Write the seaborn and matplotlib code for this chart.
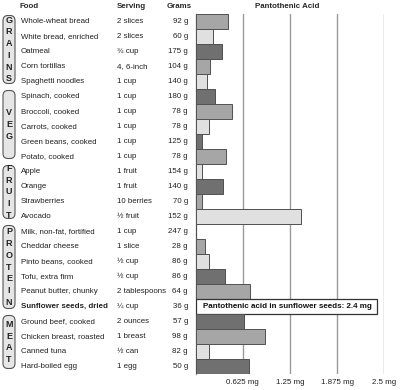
import numpy as np
import pandas as pd
import matplotlib
matplotlib.use("Agg")
import matplotlib.pyplot as plt
from matplotlib.patches import FancyBboxPatch
import seaborn as sns

# data
foods = ["Whole-wheat bread", "White bread, enriched", "Oatmeal", "Corn tortillas",
         "Spaghetti noodles", "Spinach, cooked", "Broccoli, cooked", "Carrots, cooked",
         "Green beans, cooked", "Potato, cooked", "Apple", "Orange", "Strawberries",
         "Avocado", "Milk, non-fat, fortified", "Cheddar cheese", "Pinto beans, cooked",
         "Tofu, extra firm", "Peanut butter, chunky", "Sunflower seeds, dried",
         "Ground beef, cooked", "Chicken breast, roasted", "Canned tuna", "Hard-boiled egg"]
servings = ["2 slices", "2 slices", "¾ cup", "4, 6-inch", "1 cup", "1 cup", "1 cup", "1 cup",
            "1 cup", "1 cup", "1 fruit", "1 fruit", "10 berries", "½ fruit", "1 cup", "1 slice",
            "½ cup", "½ cup", "2 tablespoons", "¼ cup", "2 ounces", "1 breast", "½ can", "1 egg"]
grams = [92, 60, 175, 104, 140, 180, 78, 78, 125, 78, 154, 140, 70, 152, 247, 28,
         86, 86, 64, 36, 57, 98, 82, 50]
pantothenic = [0.43, 0.225, 0.35, 0.195, 0.155, 0.255, 0.48, 0.18, 0.088, 0.40, 0.088,
               0.365, 0.088, 1.40, 0.0, 0.12, 0.175, 0.39, 0.72, 2.4, 0.645, 0.92, 0.175, 0.70]
groups = [("GRAINS", 0, 5), ("VEG", 5, 10), ("FRUIT", 10, 14), ("PROTEIN", 14, 20), ("MEAT", 20, 24)]
ticks = [0.625, 1.25, 1.875, 2.5]
tick_labels = ["0.625 mg", "1.25 mg", "1.875 mg", "2.5 mg"]
highlight = "Sunflower seeds, dried"

df = pd.DataFrame({"food": foods, "mg": pantothenic})

shades = ["#a6a6a6", "#e0e0e0", "#707070"]
palette = {f: shades[i % 3] for i, f in enumerate(foods)}
palette[highlight] = "#ffffff"

sns.set_style("white")
plt.rcParams["font.family"] = ["Liberation Sans", "DejaVu Sans"]
fs = 5.7

W, H = 400, 390
TOP, ROW = 14, 15
n = len(foods)
X0, X1 = 195.7, 384.3

fig = plt.figure(figsize=(4, 3.9), dpi=100)
ax = fig.add_axes([X0 / W, 1 - (TOP + n * ROW) / H, (X1 - X0) / W, n * ROW / H])

sns.barplot(data=df, x="mg", y="food", hue="food", palette=palette, width=1.0,
            legend=False, ax=ax, saturation=1)
for p, f in zip(ax.patches, foods):
    p.set_edgecolor("#333333" if f == highlight else "#505050")
    p.set_linewidth(0.9 if f == highlight else 0.7)
    p.set_zorder(3)

ax.set_xlim(0, 2.5)
ax.set_ylim(n - 0.5, -0.5)
ax.set_xticks(ticks)
ax.set_xticklabels(tick_labels, fontsize=fs, color="#222222")
ax.set_yticks([])
ax.set_xlabel("")
ax.set_ylabel("")
ax.tick_params(axis="x", length=0, pad=3.5)
ax.grid(axis="x", color="#9a9a9a", lw=1)
ax.set_axisbelow(True)
for s in ["top", "right", "bottom"]:
    ax.spines[s].set_visible(False)
ax.spines["left"].set_color("#9a9a9a")
ax.spines["left"].set_linewidth(1)

i_h = foods.index(highlight)
ax.text(0.095, i_h, "Pantothenic acid in sunflower seeds: 2.4 mg", va="center", ha="left",
        fontsize=5.8, fontweight="bold", color="#111111", zorder=5)

# overlay in pixel coordinates for the table part
ov = fig.add_axes([0, 0, 1, 1], facecolor="none")
ov.set_xlim(0, W)
ov.set_ylim(H, 0)
ov.axis("off")

hy = 6.5
ov.text(20, hy, "Food", fontsize=fs, fontweight="bold", va="center")
ov.text(117, hy, "Serving", fontsize=fs, fontweight="bold", va="center")
ov.text(192, hy, "Grams", fontsize=fs, fontweight="bold", va="center", ha="right")
ov.text(287, hy, "Pantothenic Acid", fontsize=fs, fontweight="bold", va="center", ha="center")

for i, (f, s, g) in enumerate(zip(foods, servings, grams)):
    y = TOP + ROW * (i + 0.5)
    bold = "bold" if f == highlight else "normal"
    ov.text(21, y, f, fontsize=fs, fontweight=bold, va="center", color="#222222")
    ov.text(117, y, s, fontsize=fs, va="center", color="#222222")
    ov.text(188, y, f"{g} g", fontsize=fs, va="center", ha="right", color="#222222")

for name, a, b in groups:
    y_top = TOP + ROW * a + 1.5
    y_bot = TOP + ROW * b - 5.5
    box = FancyBboxPatch((3, y_top), 12, y_bot - y_top,
                         boxstyle="round,pad=0,rounding_size=5",
                         fc="#e6e6e6", ec="#555555", lw=0.8)
    ov.add_patch(box)
    yc = (y_top + y_bot) / 2
    k = len(name)
    for j, ch in enumerate(name):
        ov.text(9, yc + (j - (k - 1) / 2) * 11.7, ch, fontsize=6.5, fontweight="bold",
                ha="center", va="center", color="#222222")

plt.savefig("out.png", dpi=100)
